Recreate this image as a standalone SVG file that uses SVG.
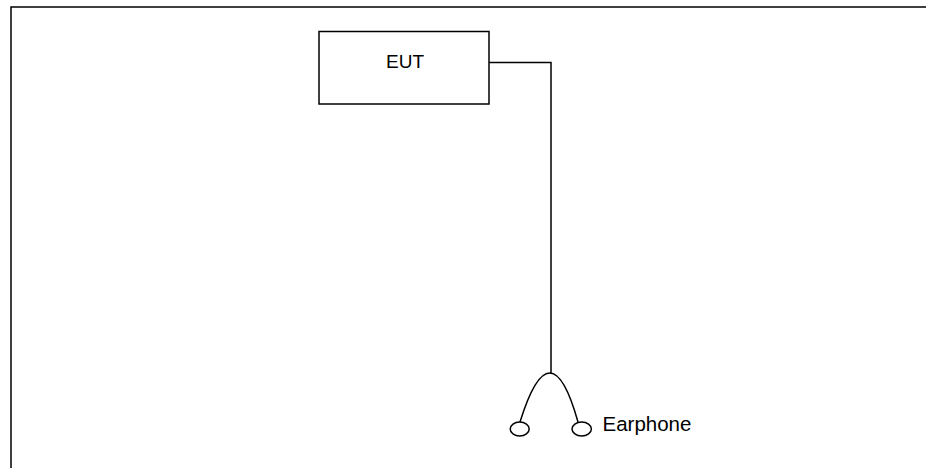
<svg xmlns="http://www.w3.org/2000/svg" width="926" height="468" viewBox="0 0 926 468">
<style>
.ln{fill:none;stroke:#000;stroke-width:1.5}
.tx{font-family:"Liberation Sans",Arial,sans-serif;fill:#000}
</style>
<rect width="926" height="468" fill="#fff"/>
<rect x="11" y="7" width="930" height="480" class="ln"/>
<g id="eut">
<rect x="319" y="31.5" width="170" height="72.5" class="ln"/>
<text x="405" y="68" class="tx" font-size="19" text-anchor="middle">EUT</text>
</g>
<g id="connectors">
<polyline points="489,62.5 551,62.5 551,373" class="ln"/>
</g>
<g id="earphone">
<path d="M520,422 Q550.5,324 578,422" class="ln"/>
<ellipse cx="519.7" cy="429" rx="9.5" ry="7" class="ln"/>
<ellipse cx="581.7" cy="429" rx="9.7" ry="7" class="ln"/>
<text x="602.5" y="431" class="tx" font-size="20.5">Earphone</text>
</g>
</svg>
